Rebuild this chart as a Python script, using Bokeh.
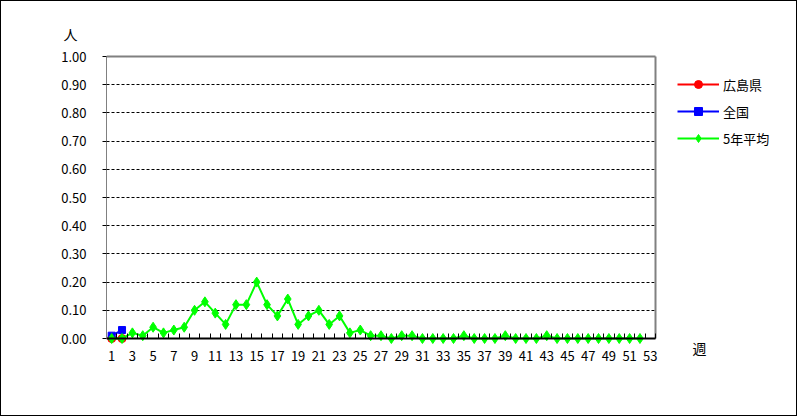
from bokeh.plotting import figure
from bokeh.models import FixedTicker, Range1d, Label, Legend, LegendItem, Grid, NumeralTickFormatter
from bokeh.embed import file_html
from bokeh.resources import INLINE

weeks = list(range(1, 54))
hiroshima_weeks = [1, 2]
hiroshima = [0.00, 0.00]
zenkoku_weeks = [1, 2]
zenkoku = [0.01, 0.03]
avg_weeks = list(range(1, 53))
avg5 = [0.00, 0.00, 0.02, 0.01, 0.04, 0.02, 0.03, 0.04, 0.10, 0.13,
        0.09, 0.05, 0.12, 0.12, 0.20, 0.12, 0.08, 0.14, 0.05, 0.08,
        0.10, 0.05, 0.08, 0.02, 0.03, 0.01, 0.01, 0.00, 0.01, 0.01,
        0.00, 0.00, 0.00, 0.00, 0.01, 0.00, 0.00, 0.00, 0.01, 0.00,
        0.00, 0.00, 0.01, 0.00, 0.00, 0.00, 0.00, 0.00, 0.00, 0.00,
        0.00, 0.00]
y_ticks = [round(i * 0.1, 2) for i in range(11)]
x_label_ticks = list(range(1, 54, 2))
x_boundaries = [w + 0.5 for w in range(0, 54)]
series_labels = ["広島県", "全国", "5年平均"]
y_unit = "人"
x_unit = "週"

FONT = "Noto Sans CJK JP"

# layout geometry (pixels)
W, H = 797, 416
BL, BT, BR, BB = 105, 53, 8, 40
frame_w = W - BL - BR
frame_h = H - BT - BB
px_per_week = 549 / 53
px_per_unit = 282.0
x0 = 0.5
x1 = x0 + frame_w / px_per_week
y1 = 1.0 + 2 / px_per_unit
y0 = y1 - frame_h / px_per_unit

p = figure(width=W, height=H, output_backend="svg", toolbar_location=None,
           x_range=Range1d(x0, x1), y_range=Range1d(y0, y1),
           min_border_left=BL, min_border_top=BT, min_border_right=BR, min_border_bottom=BB,
           title=y_unit)
p.styles = {"border": "1px solid black"}
p.background_fill_color = "white"
p.border_fill_color = "white"
p.outline_line_color = None

p.title.align = "left"
p.title.offset = -43
p.title.text_font = FONT
p.title.text_font_size = "14px"
p.title.text_font_style = "normal"
p.title.text_color = "black"
p.title.standoff = 22

# x axis
xa = p.xaxis[0]
xa.ticker = FixedTicker(ticks=x_label_ticks, minor_ticks=x_boundaries)
xa.bounds = (0.5, 53.5)
xa.fixed_location = 0
xa.major_tick_in = 0
xa.major_tick_out = 0
xa.minor_tick_in = 5
xa.minor_tick_out = 0
xa.minor_tick_line_color = "black"
xa.axis_line_color = "black"
xa.axis_line_width = 2
xa.major_label_text_font = FONT
xa.major_label_text_font_size = "13px"
xa.major_label_text_color = "black"
xa.major_label_standoff = 12

# y axis
ya = p.yaxis[0]
ya.ticker = FixedTicker(ticks=y_ticks, minor_ticks=[])
ya.bounds = (0, 1)
ya.formatter = NumeralTickFormatter(format="0.00")
ya.major_tick_in = 0
ya.major_tick_out = 4
ya.major_tick_line_color = "black"
ya.minor_tick_line_color = None
ya.axis_line_color = "#808080"
ya.major_label_text_font = FONT
ya.major_label_text_font_size = "13px"
ya.major_label_text_color = "black"
ya.major_label_standoff = 16

p.xgrid.grid_line_color = None
p.ygrid.grid_line_color = None

has_cross = hasattr(Grid, "cross_bounds")

def add_grid(dim, ticks, color, dash, width, cross):
    g = Grid(dimension=dim, ticker=FixedTicker(ticks=ticks), grid_line_color=color,
             grid_line_dash=dash, grid_line_width=width)
    if has_cross:
        g.cross_bounds = cross
    p.add_layout(g)

add_grid(1, y_ticks[1:-1], "black", "3 2", 1, (0.5, 53.5))
add_grid(1, [1.0], "#808080", "solid", 2, (0.5, 53.5))
add_grid(0, [53.5], "#808080", "solid", 2, (0, 1))

# series
r1 = p.line(hiroshima_weeks, hiroshima, line_color="#ff0000", line_width=2)
r1m = p.scatter(hiroshima_weeks, hiroshima, marker="circle", size=8,
                fill_color="#ff0000", line_color="#ff0000")
r2 = p.line(zenkoku_weeks, zenkoku, line_color="#0000ff", line_width=2)
r2m = p.scatter(zenkoku_weeks, zenkoku, marker="square", size=7,
                fill_color="#0000ff", line_color="#0000ff")
r3 = p.line(avg_weeks, avg5, line_color="#00ff00", line_width=2)
r3m = p.scatter(avg_weeks, avg5, marker="diamond", size=10,
                fill_color="#00ff00", line_color="#00ff00")

frame_bottom_px = 56 + frame_h - 2  # picture y of frame bottom
legend = Legend(items=[
    LegendItem(label=series_labels[0], renderers=[r1, r1m]),
    LegendItem(label=series_labels[1], renderers=[r2, r2m]),
    LegendItem(label=series_labels[2], renderers=[r3, r3m]),
], location=(571, frame_bottom_px - 148))
legend.glyph_width = 42
legend.glyph_height = 20
legend.label_height = 20
legend.spacing = 7
legend.label_standoff = 4
legend.padding = 0
legend.margin = 0
legend.border_line_color = None
legend.background_fill_alpha = 0
legend.label_text_font = FONT
legend.label_text_font_size = "13px"
legend.label_text_color = "black"
p.add_layout(legend, "center")

p.add_layout(Label(x=593, y=frame_bottom_px - 347, x_units="screen", y_units="screen", text=x_unit,
                   text_font=FONT, text_font_size="14px", text_align="center",
                   text_baseline="middle", text_color="black"))

open("out.html", "w").write(file_html(p, INLINE))
